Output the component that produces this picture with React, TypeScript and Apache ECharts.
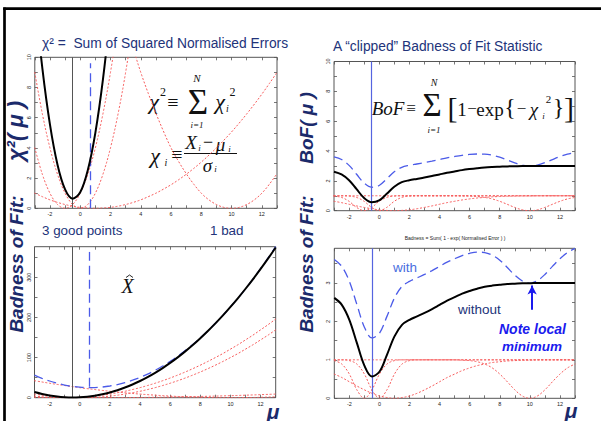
import React, { useEffect, useRef } from "react";
import * as echarts from "echarts";

// ---------- data ----------
const xs = [-3, -2.5, -2, -1.5, -1, -0.5, 0, 0.5, 1, 1.5, 2, 2.5, 3, 3.5, 4, 4.5, 5, 5.5, 6, 6.5, 7, 7.5, 8, 8.5, 9, 9.5, 10, 10.5, 11, 11.5, 12, 12.5, 13];

// individual chi^2 curves (red dotted)
const chiA = [1.0, 0.77, 0.56, 0.39, 0.25, 0.14, 0.06, 0.02, 0, 0.02, 0.06, 0.14, 0.25, 0.39, 0.56, 0.77, 1.0, 1.27, 1.56, 1.89, 2.25, 2.64, 3.06, 3.52, 4.0, 4.52, 5.06, 5.64, 6.25, 6.89, 7.56, 8.27, 9.0];
const chiBad = [42.3, 39.1, 36.0, 33.1, 30.3, 27.6, 25.0, 22.6, 20.3, 18.1, 16.0, 14.1, 12.3, 10.6, 9.0, 7.6, 6.3, 5.1, 4.0, 3.1, 2.3, 1.6, 1.0, 0.56, 0.25, 0.06, 0, 0.06, 0.25, 0.56, 1.0, 1.6, 2.3];
const chiC = [9, 6.25, 4, 2.25, 1, 0.25, 0, 0.25, 1, 2.25, 4, 6.25, 9, 12.3, 16, 20.3, 25, 30.3, 36, 42.3, 49, 56.3, 64, 72.3, 81, 90.3, 100, 110, 121, 132, 144, 156, 169];
const chiD = [4, 2.25, 1, 0.25, 0, 0.25, 1, 2.25, 4, 6.25, 9, 12.3, 16, 20.3, 25, 30.3, 36, 42.3, 49, 56.3, 64, 72.3, 81, 90.3, 100, 110, 121, 132, 144, 156, 169, 182, 196];
// totals: 3 good points (black) and all 4 points (blue dashed)
const chiGood = [14.0, 9.27, 5.56, 2.89, 1.25, 0.64, 1.06, 2.52, 5.0, 8.52, 13.1, 18.6, 25.3, 32.9, 41.6, 51.3, 62.0, 73.8, 86.6, 100.4, 115.3, 131.1, 148.1, 166.0, 185.0, 205.0, 226.1, 248.1, 271.3, 295.4, 320.6, 346.8, 374.0];
const chiAll = [56.3, 48.3, 41.6, 36.0, 31.5, 28.2, 26.1, 25.1, 25.3, 26.6, 29.1, 32.7, 37.5, 43.5, 50.6, 58.8, 68.3, 78.8, 90.6, 103.5, 117.5, 132.7, 149.1, 166.6, 185.3, 205.1, 226.1, 248.2, 271.5, 296.0, 321.6, 348.3, 376.0];

// clipped badness of fit curves
const bofA = [0.63, 0.54, 0.43, 0.32, 0.22, 0.13, 0.06, 0.02, 0, 0.02, 0.06, 0.13, 0.22, 0.32, 0.43, 0.54, 0.63, 0.72, 0.79, 0.85, 0.89, 0.93, 0.95, 0.97, 0.98, 0.99, 0.99, 1, 1, 1, 1, 1, 1];
const bofBad = [1, 1, 1, 1, 1, 1, 1, 1, 1, 1, 1, 1, 1, 1, 1, 1, 1, 0.99, 0.98, 0.95, 0.89, 0.79, 0.63, 0.43, 0.22, 0.06, 0, 0.06, 0.22, 0.43, 0.63, 0.79, 0.89];
const bofC = [1, 1, 0.98, 0.89, 0.63, 0.22, 0, 0.22, 0.63, 0.89, 0.98, 1, 1, 1, 1, 1, 1, 1, 1, 1, 1, 1, 1, 1, 1, 1, 1, 1, 1, 1, 1, 1, 1];
const bofD = [0.98, 0.89, 0.63, 0.22, 0, 0.22, 0.63, 0.89, 0.98, 1, 1, 1, 1, 1, 1, 1, 1, 1, 1, 1, 1, 1, 1, 1, 1, 1, 1, 1, 1, 1, 1, 1, 1];
const bofGood = [2.61, 2.43, 2.04, 1.44, 0.85, 0.57, 0.69, 1.13, 1.61, 1.91, 2.04, 2.13, 2.22, 2.32, 2.43, 2.54, 2.63, 2.72, 2.79, 2.85, 2.9, 2.93, 2.95, 2.97, 2.98, 2.99, 2.99, 3.0, 3.0, 3.0, 3.0, 3.0, 3.0];
const bofAll = [3.61, 3.43, 3.04, 2.44, 1.85, 1.57, 1.69, 2.13, 2.61, 2.91, 3.04, 3.13, 3.22, 3.32, 3.43, 3.54, 3.63, 3.71, 3.77, 3.8, 3.79, 3.72, 3.59, 3.4, 3.2, 3.05, 2.99, 3.06, 3.22, 3.43, 3.63, 3.79, 3.9];

// estimates (vertical lines) and annotation
const muGood = -0.5;
const muAll = 0.65;
const arrowX = 10.15;
const arrowFrom = 2.3;
const arrowTo = 2.93;

// tick labels
const xLabels = [-2, 0, 2, 4, 6, 8, 10, 12];
const xTicks = [-3, -2, -1, 0, 1, 2, 3, 4, 5, 6, 7, 8, 9, 10, 11, 12, 13];
const chiLabels = [0, 2, 4, 6, 8, 10];
const chiTicks = [0, 1, 2, 3, 4, 5, 6, 7, 8, 9, 10];
const bigLabels = [0, 100, 200, 300];
const bigTicks = [0, 50, 100, 150, 200, 250, 300, 350];
const bofLabels = [0, 1, 2, 3];
const bofTicks = [0, 0.5, 1, 1.5, 2, 2.5, 3, 3.5];

const SANS = '"Liberation Sans", Arial, sans-serif';
const SERIF = '"Liberation Serif", "Times New Roman", serif';
const NAVY = "#22337a";
const RED = "#f65a5a";
const BLUE = "#4b5be8";

const tickStyle = { color: "#555", width: 0.8 };

function axesFor(gi: number, yMax: number, yLabels: number[], yTicks: number[]) {
  const hidden = { show: false, onZero: false };
  const x = [
    {
      type: "value", gridIndex: gi, min: -3, max: 13, position: "bottom",
      axisLine: hidden, splitLine: { show: false },
      axisTick: { show: true, inside: true, length: 3, customValues: xTicks, lineStyle: tickStyle },
      axisLabel: { show: true, customValues: xLabels, fontSize: 5.5, color: "#222", margin: 3, fontFamily: SANS },
    },
    {
      type: "value", gridIndex: gi, min: -3, max: 13, position: "top",
      axisLine: hidden, splitLine: { show: false },
      axisTick: { show: true, inside: true, length: 3, customValues: xTicks, lineStyle: tickStyle },
      axisLabel: { show: false },
    },
  ];
  const y = [
    {
      type: "value", gridIndex: gi, min: 0, max: yMax, position: "left",
      axisLine: hidden, splitLine: { show: false },
      axisTick: { show: true, inside: true, length: 3, customValues: yTicks, lineStyle: tickStyle },
      axisLabel: { show: true, customValues: yLabels, fontSize: 5.5, color: "#222", margin: 3, rotate: 90, fontFamily: SANS },
    },
    {
      type: "value", gridIndex: gi, min: 0, max: yMax, position: "right",
      axisLine: hidden, splitLine: { show: false },
      axisTick: { show: true, inside: true, length: 3, customValues: yTicks, lineStyle: tickStyle },
      axisLabel: { show: false },
    },
  ];
  return { x, y };
}

function curve(gi: number, ys: number[], kind: "red" | "blue" | "black", extra: any = {}) {
  const lineStyle =
    kind === "red"
      ? { color: RED, width: 1, type: [1.2, 2.6], cap: "round" }
      : kind === "blue"
      ? { color: BLUE, width: 1.3, type: [9, 5] }
      : { color: "#000", width: 2 };
  return {
    type: "line",
    xAxisIndex: gi * 2,
    yAxisIndex: gi * 2,
    data: xs.map((x, i) => [x, ys[i]]),
    showSymbol: false,
    symbol: "none",
    smooth: 0.35,
    clip: true,
    silent: true,
    z: kind === "black" ? 5 : kind === "blue" ? 4 : 3,
    lineStyle,
    ...extra,
  };
}

function vline(color: string, type: any, width: number, data: any[]) {
  return {
    markLine: {
      silent: true,
      symbol: ["none", "none"],
      label: { show: false },
      lineStyle: { color, type, width },
      data,
    },
  };
}

function txt(x: number, y: number, text: string, o: any = {}) {
  const size = o.size || 13;
  return {
    type: "text",
    x,
    y,
    rotation: o.rotation || 0,
    silent: true,
    style: {
      text,
      fontSize: size,
      lineHeight: o.lh || Math.round(size * 1.1),
      fontFamily: o.family || SANS,
      fontWeight: o.weight || "normal",
      fontStyle: o.style || "normal",
      fill: o.color || NAVY,
      align: o.align || "left",
      verticalAlign: o.va || "middle",
    },
  };
}

export default function App() {
  const ref = useRef<HTMLDivElement>(null);
  useEffect(() => {
    if (!ref.current) return;
    const chart = echarts.init(ref.current, null, { renderer: "svg" });

    const a0 = axesFor(0, 10, chiLabels, chiTicks);
    const a1 = axesFor(1, 10, chiLabels, chiTicks);
    const a2 = axesFor(2, 376, bigLabels, bigTicks);
    const a3 = axesFor(3, 3.9, bofLabels, bofTicks);

    const gridBase = { show: true, borderColor: "#555", borderWidth: 1, backgroundColor: "#fff", containLabel: false };

    const F = { family: SERIF, color: "#111", align: "center" };
    const FI = { family: SERIF, color: "#111", style: "italic", align: "center" };
    const LBL = { weight: "bold", style: "italic", rotation: Math.PI / 2, align: "center", color: "#1b2a6b" };

    const option: any = {
      animation: false,
      backgroundColor: "#fff",
      grid: [
        { ...gridBase, left: 34.8, top: 57.3, width: 242.2, height: 151 },
        { ...gridBase, left: 334, top: 61.5, width: 241, height: 149.2 },
        { ...gridBase, left: 34.5, top: 246.7, width: 241.2, height: 151 },
        { ...gridBase, left: 334.3, top: 248.3, width: 240.7, height: 150 },
      ],
      xAxis: [...a0.x, ...a1.x, ...a2.x, ...a3.x],
      yAxis: [...a0.y, ...a1.y, ...a2.y, ...a3.y],
      series: [
        // top-left: chi^2, zoomed in
        curve(0, chiA, "red"),
        curve(0, chiBad, "red"),
        curve(0, chiC, "red"),
        curve(0, chiD, "red"),
        curve(0, chiAll, "blue", vline(BLUE, [9, 5], 1.3, [[{ coord: [muAll, 0] }, { coord: [muAll, 9.6] }]])),
        curve(0, chiGood, "black", vline("#555", "solid", 1, [{ xAxis: muGood }])),
        // top-right: clipped BoF
        curve(1, bofA, "red"),
        curve(1, bofBad, "red"),
        curve(1, bofC, "red"),
        curve(1, bofD, "red"),
        curve(1, bofAll, "blue"),
        curve(1, bofGood, "black", vline("#5664e0", "solid", 1.2, [{ xAxis: muGood }])),
        // bottom-left: chi^2 full range
        curve(2, chiA, "red"),
        curve(2, chiBad, "red"),
        curve(2, chiC, "red"),
        curve(2, chiD, "red"),
        curve(2, chiAll, "blue", vline(BLUE, [9, 5], 1.3, [[{ coord: [muAll, 27] }, { coord: [muAll, 363] }]])),
        curve(2, chiGood, "black", vline("#555", "solid", 1, [{ xAxis: muGood }])),
        // bottom-right: BoF zoomed
        curve(3, bofA, "red"),
        curve(3, bofBad, "red"),
        curve(3, bofC, "red"),
        curve(3, bofD, "red"),
        curve(3, bofAll, "blue"),
        curve(3, bofGood, "black", vline("#5664e0", "solid", 1.2, [{ xAxis: muGood }])),
        {
          type: "line",
          xAxisIndex: 6,
          yAxisIndex: 6,
          data: [[arrowX, arrowFrom]],
          showSymbol: false,
          symbol: "none",
          lineStyle: { width: 0 },
          silent: true,
          z: 6,
          markLine: {
            silent: true,
            symbol: ["none", "arrow"],
            symbolSize: [7, 9],
            label: { show: false },
            lineStyle: { color: "#1a1aee", width: 2, type: "solid" },
            data: [[{ coord: [arrowX, arrowFrom] }, { coord: [arrowX, arrowTo] }]],
          },
        },
      ],
      graphic: [
        // slide frame
        { type: "line", silent: true, shape: { x1: 3.2, y1: 8.7, x2: 601, y2: 8.7 }, style: { stroke: "#000", lineWidth: 2.7 } },
        { type: "line", silent: true, shape: { x1: 4.5, y1: 7.4, x2: 4.5, y2: 421 }, style: { stroke: "#000", lineWidth: 2.7 } },
        // titles
        txt(42, 43, "χ² =  Sum of Squared Normalised Errors", { size: 13.8 }),
        txt(333, 46.5, "A “clipped” Badness of Fit Statistic", { size: 13.8 }),
        txt(42, 230, "3 good points", { size: 13.4 }),
        txt(210, 230, "1 bad", { size: 13.4 }),
        txt(455, 238, "Badness = Sum( 1 - exp( Normalised Error ) )", { size: 5, color: "#222", align: "center" }),
        // rotated axis titles
        txt(15.5, 131, "χ²( μ )", { ...LBL, size: 22 }),
        txt(16.5, 264, "Badness of Fit:", { ...LBL, size: 19 }),
        txt(306, 128, "BoF( μ )", { ...LBL, size: 19 }),
        txt(306.5, 264, "Badness of Fit:", { ...LBL, size: 19 }),
        // mu axis labels
        txt(273, 411, "μ", { size: 21, weight: "bold", style: "italic", align: "center", color: "#1b2a6b" }),
        txt(571, 410, "μ", { size: 21, weight: "bold", style: "italic", align: "center", color: "#1b2a6b" }),
        // formula: chi^2 = sum chi_i^2
        txt(154, 101, "χ", { ...FI, size: 22, lh: 16 }),
        txt(163, 92, "2", { ...F, size: 12, lh: 9 }),
        txt(173, 102, "≡", { ...F, size: 20, lh: 12 }),
        txt(198, 102, "Σ", { ...F, size: 35, lh: 22 }),
        txt(197, 78, "N", { ...FI, size: 11, lh: 8 }),
        txt(197, 125, "i=1", { ...FI, size: 9, lh: 7 }),
        txt(220, 101, "χ", { ...FI, size: 22, lh: 16 }),
        txt(227.5, 108.5, "i", { ...FI, size: 10, lh: 8 }),
        txt(232.5, 92, "2", { ...F, size: 12, lh: 9 }),
        // formula: chi_i = (X_i - mu_i)/sigma_i
        txt(155, 155, "χ", { ...FI, size: 22, lh: 16 }),
        txt(166, 162, "i", { ...FI, size: 10, lh: 8 }),
        txt(177, 154, "≡", { ...F, size: 20, lh: 12 }),
        txt(191, 142, "X", { ...FI, size: 19, lh: 14 }),
        txt(199.5, 147.5, "i", { ...FI, size: 9, lh: 7 }),
        txt(208, 142, "−", { ...F, size: 18, lh: 10 }),
        txt(220.5, 144, "μ", { ...FI, size: 19, lh: 12 }),
        txt(229.5, 148.5, "i", { ...FI, size: 9, lh: 7 }),
        { type: "line", silent: true, shape: { x1: 184, y1: 153.5, x2: 237, y2: 153.5 }, style: { stroke: "#111", lineWidth: 1 } },
        txt(207.5, 165, "σ", { ...FI, size: 19, lh: 12 }),
        txt(215.5, 169, "i", { ...FI, size: 9, lh: 7 }),
        // formula: BoF
        txt(388, 108.5, "BoF", { ...FI, size: 19, lh: 15 }),
        txt(411, 108, "≡", { ...F, size: 17, lh: 10 }),
        txt(432, 105, "Σ", { ...F, size: 33, lh: 21 }),
        txt(434, 82.5, "N", { ...FI, size: 10, lh: 7 }),
        txt(434, 130, "i=1", { ...FI, size: 9, lh: 7 }),
        txt(452.5, 107, "[", { ...F, size: 30, lh: 24 }),
        txt(462, 109, "1", { ...F, size: 19, lh: 14 }),
        txt(472, 108.5, "−", { ...F, size: 17, lh: 10 }),
        txt(490, 109, "exp", { ...F, size: 19, lh: 14 }),
        txt(510, 107, "{", { ...F, size: 24, lh: 20 }),
        txt(521.5, 108.5, "−", { ...F, size: 17, lh: 10 }),
        txt(534, 109, "χ", { ...FI, size: 19, lh: 14 }),
        txt(543.5, 115.5, "i", { ...FI, size: 9, lh: 7 }),
        txt(548.5, 98.5, "2", { ...F, size: 11, lh: 8 }),
        txt(558.5, 107, "}", { ...F, size: 24, lh: 20 }),
        txt(569, 107, "]", { ...F, size: 30, lh: 24 }),
        // X hat (hat drawn as a small caret)
        txt(127.5, 286, "X", { ...FI, size: 20, lh: 14 }),
        { type: "polyline", silent: true, shape: { points: [[126, 277.5], [129.5, 275], [133, 277.5]] }, style: { stroke: "#111", lineWidth: 0.9, fill: null } },
        // bottom-right annotations
        txt(393, 267, "with", { size: 13.5, color: "#4a6ee0" }),
        txt(458, 309, "without", { size: 13.5, color: NAVY }),
        txt(499, 329, "Note local", { size: 14, weight: "bold", style: "italic", color: "#1a1aee" }),
        txt(502, 346, "minimum", { size: 13.5, weight: "bold", style: "italic", color: "#1a1aee" }),
      ],
    };

    chart.setOption(option);
    return () => chart.dispose();
  }, []);

  return (
    <div
      ref={ref}
      style={{ position: "fixed", left: 0, top: 0, width: 601, height: 421, background: "#fff" }}
    />
  );
}
